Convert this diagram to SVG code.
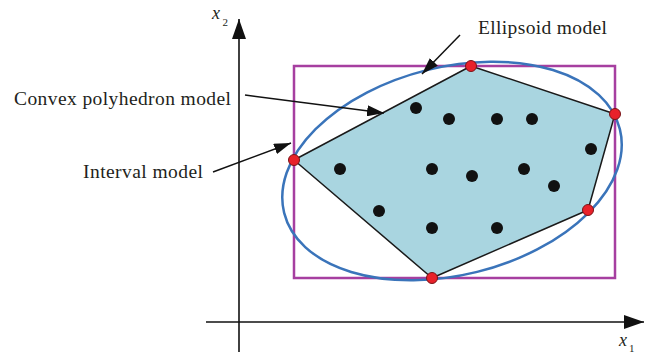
<svg xmlns="http://www.w3.org/2000/svg" width="646" height="352" viewBox="0 0 646 352">
<style>
.lbl{font-family:"Liberation Serif","Times New Roman",serif;font-size:19.5px;fill:#231f20}
.var{font-family:"Liberation Serif","Times New Roman",serif;font-style:italic;font-size:18px;fill:#231f20}
.sub{font-family:"Liberation Serif","Times New Roman",serif;font-size:11px;fill:#231f20}
.axis{stroke:#111;stroke-width:1.6;fill:none}
.ann{stroke:#111;stroke-width:1.5;fill:none;marker-end:url(#ah)}
.dot{fill:#111}
.vtx{fill:#e8212a;stroke:#7a1418;stroke-width:1}
</style>
<defs>
<marker id="ah" markerUnits="userSpaceOnUse" markerWidth="17" markerHeight="11" refX="17" refY="5.5" orient="auto"><path d="M0,0 L17,5.5 L0,11 z" fill="#111"/></marker>
<marker id="ax" markerUnits="userSpaceOnUse" markerWidth="20" markerHeight="14" refX="20" refY="7" orient="auto"><path d="M0,0 L20,7 L0,14 z" fill="#111"/></marker>
</defs>
<rect width="646" height="352" fill="#fff"/>
<g id="axes">
<line class="axis" x1="239" y1="352" x2="239" y2="19" marker-end="url(#ax)"/>
<line class="axis" x1="206" y1="322" x2="644" y2="322" marker-end="url(#ax)"/>
<text class="var" x="212" y="19">x</text><text class="sub" x="222.5" y="26">2</text>
<text class="var" x="619" y="346">x</text><text class="sub" x="629" y="351.5">1</text>
</g>
<g id="polyhedron"><polygon points="294,160 471,66 615,114 588,210 432,278" fill="#a9d5e0" stroke="#1a1a1a" stroke-width="1.5" stroke-linejoin="round"/></g>
<g id="interval-box"><rect x="294" y="66" width="321" height="212" fill="none" stroke="#a63fa0" stroke-width="2.5"/></g>
<g id="ellipsoid"><ellipse cx="0" cy="0" rx="173" ry="104" transform="translate(452 171) rotate(-14)" fill="none" stroke="#3a74ba" stroke-width="2.5"/></g>
<g id="samples">
<circle class="dot" cx="416" cy="108" r="6"/><circle class="dot" cx="449" cy="119" r="6"/><circle class="dot" cx="497" cy="119" r="6"/><circle class="dot" cx="532" cy="119" r="6"/>
<circle class="dot" cx="591" cy="149" r="6"/><circle class="dot" cx="340" cy="169" r="6"/><circle class="dot" cx="432" cy="169" r="6"/><circle class="dot" cx="472" cy="176" r="6"/>
<circle class="dot" cx="524" cy="169" r="6"/><circle class="dot" cx="554" cy="186" r="6"/><circle class="dot" cx="379" cy="211" r="6"/><circle class="dot" cx="432" cy="228" r="6"/><circle class="dot" cx="497" cy="228" r="6"/>
</g>
<g id="vertices">
<circle class="vtx" cx="294" cy="160" r="5.5"/><circle class="vtx" cx="471" cy="66" r="5.5"/><circle class="vtx" cx="615" cy="114" r="5.5"/><circle class="vtx" cx="588" cy="210" r="5.5"/><circle class="vtx" cx="432" cy="278" r="5.5"/>
</g>
<g id="connectors">
<line class="ann" x1="460" y1="35" x2="422" y2="74"/>
<line class="ann" x1="245" y1="95" x2="384" y2="113"/>
<line class="ann" x1="213" y1="172" x2="291" y2="143"/>
</g>
<g id="label-ellipsoid"><text class="lbl" x="478" y="34" textLength="129" lengthAdjust="spacing">Ellipsoid model</text></g>
<g id="label-convex"><text class="lbl" x="14" y="104.5" textLength="217" lengthAdjust="spacing">Convex polyhedron model</text></g>
<g id="label-interval"><text class="lbl" x="83" y="177.5" textLength="120" lengthAdjust="spacing">Interval model</text></g>
</svg>
